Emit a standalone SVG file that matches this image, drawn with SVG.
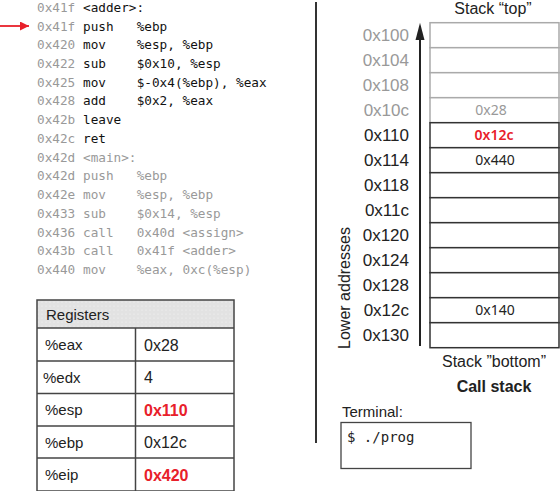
<svg xmlns="http://www.w3.org/2000/svg" width="560" height="491" viewBox="0 0 560 491">
<defs>
<style>
.code{font-family:"DejaVu Sans Mono","Liberation Mono",monospace;font-size:12.7px;fill:#111}
.g{fill:#999}
.sans{font-family:"Liberation Sans","DejaVu Sans",sans-serif;fill:#222}
.addr{font-family:"Liberation Sans","DejaVu Sans",sans-serif;font-size:17px;text-anchor:end;fill:#222}
.ga{fill:#999}
.cellv{font-family:"Noto Sans","DejaVu Sans",sans-serif;font-size:14px;text-anchor:middle;fill:#222}
.reg{font-family:"Liberation Sans","DejaVu Sans",sans-serif;font-size:15px;fill:#222}
.val{font-family:"Liberation Sans","DejaVu Sans",sans-serif;font-size:16px;fill:#222}
.red{fill:#e8202a;font-weight:bold}
.cellg{fill:#fff;stroke:#aaa;stroke-width:1.5}
.celld{fill:#fff;stroke:#333;stroke-width:1.5}
.tbl{fill:none;stroke:#444;stroke-width:1.5}
</style>
<pattern id="dots" width="4" height="4" patternUnits="userSpaceOnUse">
<rect width="4" height="4" fill="#e2e2e2"/>
<circle cx="2" cy="2" r="0.6" fill="#f6f6f6"/>
</pattern>
<marker id="redhead" viewBox="0 0 10 10" refX="10" refY="5" markerWidth="16" markerHeight="9" markerUnits="userSpaceOnUse" orient="auto">
<path d="M0,0 L10,5 L0,10 z" fill="#e8202a"/>
</marker>
</defs>

<g id="code">
<text class="code" y="11.7"><tspan x="37" class="g">0x41f</tspan><tspan x="83">&lt;adder&gt;:</tspan></text>
<text class="code" y="30.5"><tspan x="37" class="g">0x41f</tspan><tspan x="83">push</tspan><tspan x="136.7">%ebp</tspan></text>
<text class="code" y="49.2"><tspan x="37" class="g">0x420</tspan><tspan x="83">mov</tspan><tspan x="136.7">%esp, %ebp</tspan></text>
<text class="code" y="67.9"><tspan x="37" class="g">0x422</tspan><tspan x="83">sub</tspan><tspan x="136.7">$0x10, %esp</tspan></text>
<text class="code" y="86.7"><tspan x="37" class="g">0x425</tspan><tspan x="83">mov</tspan><tspan x="136.7">$-0x4(%ebp), %eax</tspan></text>
<text class="code" y="105.4"><tspan x="37" class="g">0x428</tspan><tspan x="83">add</tspan><tspan x="136.7">$0x2, %eax</tspan></text>
<text class="code" y="124.1"><tspan x="37" class="g">0x42b</tspan><tspan x="83">leave</tspan></text>
<text class="code" y="142.9"><tspan x="37" class="g">0x42c</tspan><tspan x="83">ret</tspan></text>
<text class="code g" y="161.6"><tspan x="37">0x42d</tspan><tspan x="83">&lt;main&gt;:</tspan></text>
<text class="code g" y="180.4"><tspan x="37">0x42d</tspan><tspan x="83">push</tspan><tspan x="136.7">%ebp</tspan></text>
<text class="code g" y="199.1"><tspan x="37">0x42e</tspan><tspan x="83">mov</tspan><tspan x="136.7">%esp, %ebp</tspan></text>
<text class="code g" y="217.8"><tspan x="37">0x433</tspan><tspan x="83">sub</tspan><tspan x="136.7">$0x14, %esp</tspan></text>
<text class="code g" y="236.6"><tspan x="37">0x436</tspan><tspan x="83">call</tspan><tspan x="136.7">0x40d &lt;assign&gt;</tspan></text>
<text class="code g" y="255.3"><tspan x="37">0x43b</tspan><tspan x="83">call</tspan><tspan x="136.7">0x41f &lt;adder&gt;</tspan></text>
<text class="code g" y="274.1"><tspan x="37">0x440</tspan><tspan x="83">mov</tspan><tspan x="136.7">%eax, 0xc(%esp)</tspan></text>
</g>

<g id="connectors">
<line x1="0" y1="26" x2="29" y2="26" stroke="#e8202a" stroke-width="1.8" marker-end="url(#redhead)"/>
<line x1="420" y1="346" x2="420" y2="38" stroke="#222" stroke-width="2"/>
<polygon points="420,22.7 415.5,40 424.5,40" fill="#222"/>
</g>

<g id="divider">
<line x1="316" y1="2" x2="316" y2="443" stroke="#333" stroke-width="2"/>
</g>

<g id="registers">
<rect x="37" y="300" width="197" height="28" fill="url(#dots)"/>
<rect x="37" y="300" width="197" height="191" class="tbl"/>
<line x1="37" y1="328" x2="234" y2="328" class="tbl"/>
<line x1="37" y1="361" x2="234" y2="361" class="tbl"/>
<line x1="37" y1="393.5" x2="234" y2="393.5" class="tbl"/>
<line x1="37" y1="426" x2="234" y2="426" class="tbl"/>
<line x1="37" y1="458" x2="234" y2="458" class="tbl"/>
<line x1="135.5" y1="328" x2="135.5" y2="491" class="tbl"/>
<text class="reg" x="46" y="320" font-size="15.5">Registers</text>
<text class="reg" x="45" y="350">%eax</text>
<text class="reg" x="43" y="382.5">%edx</text>
<text class="reg" x="45" y="415">%esp</text>
<text class="reg" x="45" y="447.5">%ebp</text>
<text class="reg" x="45" y="480">%eip</text>
<text class="val" x="144" y="350.5">0x28</text>
<text class="val" x="144" y="383">4</text>
<text class="val red" x="144" y="415.5" font-size="17">0x110</text>
<text class="val" x="144" y="448">0x12c</text>
<text class="val red" x="144" y="480.5" font-size="17">0x420</text>
</g>

<g id="stack">
<text class="sans" x="493" y="14" font-size="16" text-anchor="middle">Stack “top”</text>
<rect x="430" y="22.7" width="129" height="25" class="cellg"/>
<rect x="430" y="47.7" width="129" height="25" class="cellg"/>
<rect x="430" y="72.7" width="129" height="25" class="cellg"/>
<rect x="430" y="97.7" width="129" height="25" class="cellg"/>
<rect x="430" y="122.7" width="129" height="25" class="celld"/>
<rect x="430" y="147.7" width="129" height="25" class="celld"/>
<rect x="430" y="172.7" width="129" height="25" class="celld"/>
<rect x="430" y="197.7" width="129" height="25" class="celld"/>
<rect x="430" y="222.7" width="129" height="25" class="celld"/>
<rect x="430" y="247.7" width="129" height="25" class="celld"/>
<rect x="430" y="272.7" width="129" height="25" class="celld"/>
<rect x="430" y="297.7" width="129" height="25" class="celld"/>
<rect x="430" y="322.7" width="129" height="25" class="celld"/>
<text class="addr ga" x="409" y="41.2">0x100</text>
<text class="addr ga" x="409" y="66.2">0x104</text>
<text class="addr ga" x="409" y="91.2">0x108</text>
<text class="addr ga" x="409" y="116.2">0x10c</text>
<text class="addr" x="409" y="141.2">0x110</text>
<text class="addr" x="409" y="166.2">0x114</text>
<text class="addr" x="409" y="191.2">0x118</text>
<text class="addr" x="409" y="216.2">0x11c</text>
<text class="addr" x="409" y="241.2">0x120</text>
<text class="addr" x="409" y="266.2">0x124</text>
<text class="addr" x="409" y="291.2">0x128</text>
<text class="addr" x="409" y="316.2">0x12c</text>
<text class="addr" x="409" y="341.2">0x130</text>
<text class="cellv" x="491" y="115" style="fill:#999">0x28</text>
<text class="cellv" x="494" y="140" style="fill:#e8202a;font-weight:600">0x12c</text>
<text class="cellv" x="495" y="165">0x440</text>
<text class="cellv" x="495" y="315">0x140</text>
<text class="sans" font-size="16" text-anchor="middle" transform="translate(350,288) rotate(-90)">Lower addresses</text>
<text class="sans" x="494" y="367" font-size="16" text-anchor="middle">Stack ”bottom”</text>
<text class="sans" x="494" y="391.5" font-size="16" font-weight="bold" text-anchor="middle">Call stack</text>
</g>

<g id="terminal">
<text class="sans" x="342" y="417" font-size="15">Terminal:</text>
<rect x="341" y="422.5" width="130" height="46" fill="#fff" stroke="#444" stroke-width="1.3"/>
<text x="347" y="442" font-family="DejaVu Sans Mono, monospace" font-size="14" fill="#222">$ ./prog</text>
</g>
</svg>
